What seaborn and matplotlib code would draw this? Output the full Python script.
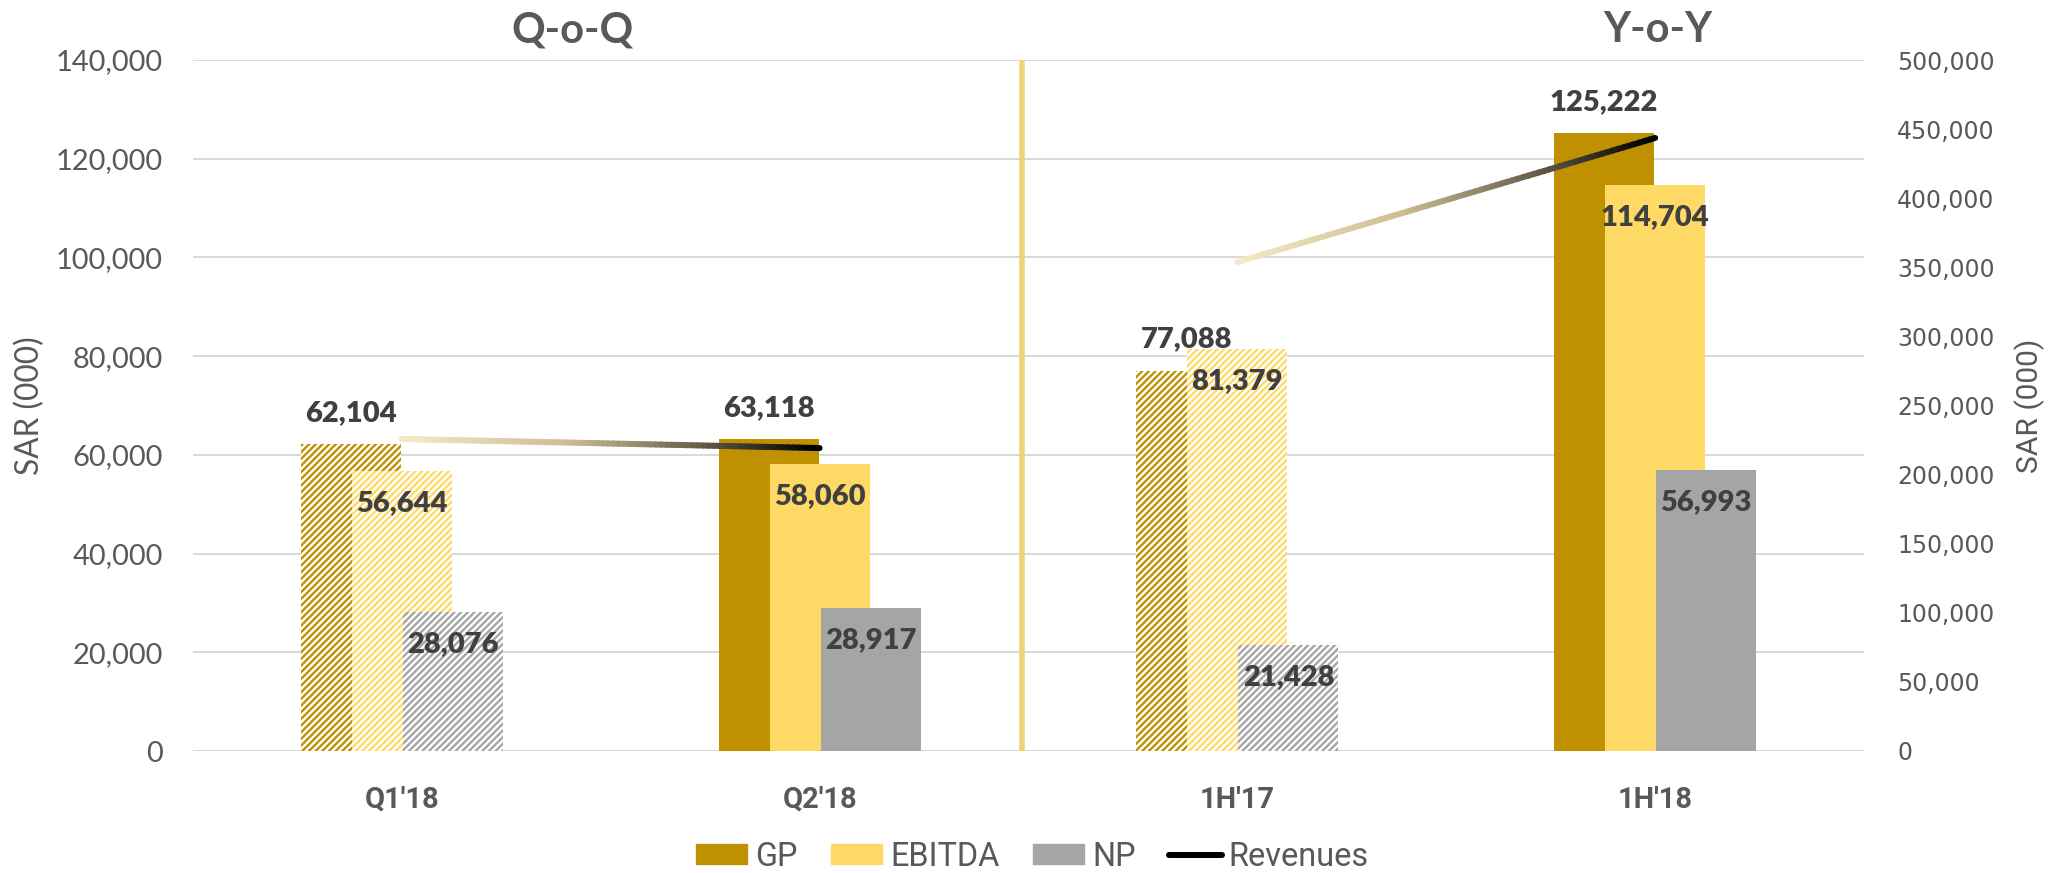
import numpy as np
import pandas as pd
import matplotlib.pyplot as plt
import seaborn as sns
from matplotlib import font_manager
from matplotlib.patches import Patch
from matplotlib.lines import Line2D
from matplotlib.collections import LineCollection
from matplotlib.colors import LinearSegmentedColormap
from matplotlib.ticker import MultipleLocator, FuncFormatter

# data (SAR 000)
categories = ["Q1'18", "Q2'18", "1H'17", "1H'18"]
gp = [62104, 63118, 77088, 125222]
ebitda = [56644, 58060, 81379, 114704]
net_profit = [28076, 28917, 21428, 56993]
revenues = [225800, 219200, 353800, 443600]
revenue_links = [(0, 1), (2, 3)]          # Q-o-Q and Y-o-Y segments
prior_period = [True, False, True, False]  # hatched bars

sns.set_style("white")
names = {f.name for f in font_manager.fontManager.ttflist}
narrow = "Liberation Sans Narrow" if "Liberation Sans Narrow" in names else "Roboto"
plt.rcParams["font.family"] = ["Lato", "DejaVu Sans"]
plt.rcParams["hatch.linewidth"] = 1.4

grey = "#595959"
W, H, DPI = 2072, 873, 120
fig = plt.figure(figsize=(W / DPI, H / DPI), dpi=DPI)
ax = fig.add_axes([193 / W, 1 - 751 / H, (1864 - 193) / W, (751 - 60) / H])

x = np.arange(len(categories))
bw, off = 0.2394, 0.1221
series = [("GP", gp, "#BF9000", -off),
          ("EBITDA", ebitda, "#FFD966", 0.0),
          ("NP", net_profit, "#A5A5A5", off)]

for name, vals, col, shift in series:
    sns.barplot(x=x + shift, y=vals, native_scale=True, width=bw, color=col,
                saturation=1, errorbar=None, ax=ax)
    bars = ax.containers[-1]
    for bar, v, hatch in zip(bars, vals, prior_period):
        bar.set_linewidth(0)
        if hatch:
            bar.set_facecolor("white")
            bar.set_edgecolor(col)
            bar.set_hatch("//////")
        cx = bar.get_x() + bar.get_width() / 2
        dy = 18.6 if name == "GP" else -19.2
        ax.annotate(f"{v:,}", (cx, v), xytext=(0, dy), textcoords="offset points",
                    ha="center", va="center", fontsize=17.5, fontweight="heavy",
                    color="#404040", zorder=10)

ax.axvline(1.484, color="#F0D27A", lw=3.3, zorder=1)

ax.set_xlim(-0.5, 3.5)
ax.set_ylim(0, 140000)
ax.yaxis.set_major_locator(MultipleLocator(20000))
ax.yaxis.set_major_formatter(FuncFormatter(lambda v, p: f"{v:,.0f}"))
ax.grid(axis="y", color="#D9D9D9", lw=1.2)
ax.grid(axis="x", visible=False)
ax.set_axisbelow(True)
for s in ax.spines.values():
    s.set_visible(False)
ax.set_xticks(x)
ax.set_xticklabels(categories, fontfamily=narrow, fontweight="bold", fontsize=17.4, color=grey)
ax.tick_params(axis="x", length=0, pad=21)
ax.tick_params(axis="y", length=0, pad=18, labelsize=17.4, labelcolor=grey)
ax.set_ylabel("SAR (000)", fontsize=19, color=grey)
ax.yaxis.label.set_va("center")
ax.yaxis.set_label_coords((30 - 193) / 1671, 0.5)

ax2 = ax.twinx()
ax2.set_ylim(0, 500000)
rticks = np.arange(0, 500001, 50000)
ax2.set_yticks(rticks)
ax2.set_yticklabels([f"{t:,}" for t in rticks], fontfamily="DejaVu Sans", fontsize=14.2, color=grey)
ax2.tick_params(axis="y", length=0, pad=20)
ax2.grid(False)
for s in ax2.spines.values():
    s.set_visible(False)
ax2.set_ylabel("SAR (000)", fontfamily=narrow, fontsize=18, color=grey, rotation=90)
ax2.yaxis.label.set_va("center")
ax2.yaxis.set_label_coords((2030 - 193) / 1671, 0.5)

# revenues line with light-to-dark gradient
cmap = LinearSegmentedColormap.from_list(
    "rev", [(0, "#F5E9C6"), (0.4, "#CDBD93"), (0.7, "#6E6550"), (1, "#000000")])
for i, j in revenue_links:
    xs = np.linspace(x[i], x[j], 80)
    ys = np.linspace(revenues[i], revenues[j], 80)
    pts = np.column_stack([xs, ys]).reshape(-1, 1, 2)
    segs = np.concatenate([pts[:-1], pts[1:]], axis=1)
    lc = LineCollection(segs, cmap=cmap, array=np.linspace(0, 1, len(segs)),
                        linewidths=3.6, capstyle="round")
    ax2.add_collection(lc)

fig.text(572 / W, 1 - 30 / H, "Q-o-Q", ha="center", va="center",
         fontsize=25, fontweight="bold", color=grey)
fig.text(1658 / W, 1 - 30 / H, "Y-o-Y", ha="center", va="center",
         fontsize=25, fontweight="bold", color=grey)

handles = [Patch(facecolor="#BF9000"), Patch(facecolor="#FFD966"), Patch(facecolor="#A5A5A5"),
           Line2D([], [], color="black", lw=3.6, solid_capstyle="round")]
fig.legend(handles, ["GP", "EBITDA", "NP", "Revenues"], loc="center",
           bbox_to_anchor=(1032 / W, 1 - 857 / H), ncol=4, frameon=False,
           prop={"family": narrow, "size": 19.5}, labelcolor=grey,
           handlelength=1.65, handleheight=0.7, handletextpad=0.2, columnspacing=1.0)

plt.savefig("out.png", dpi=DPI)
